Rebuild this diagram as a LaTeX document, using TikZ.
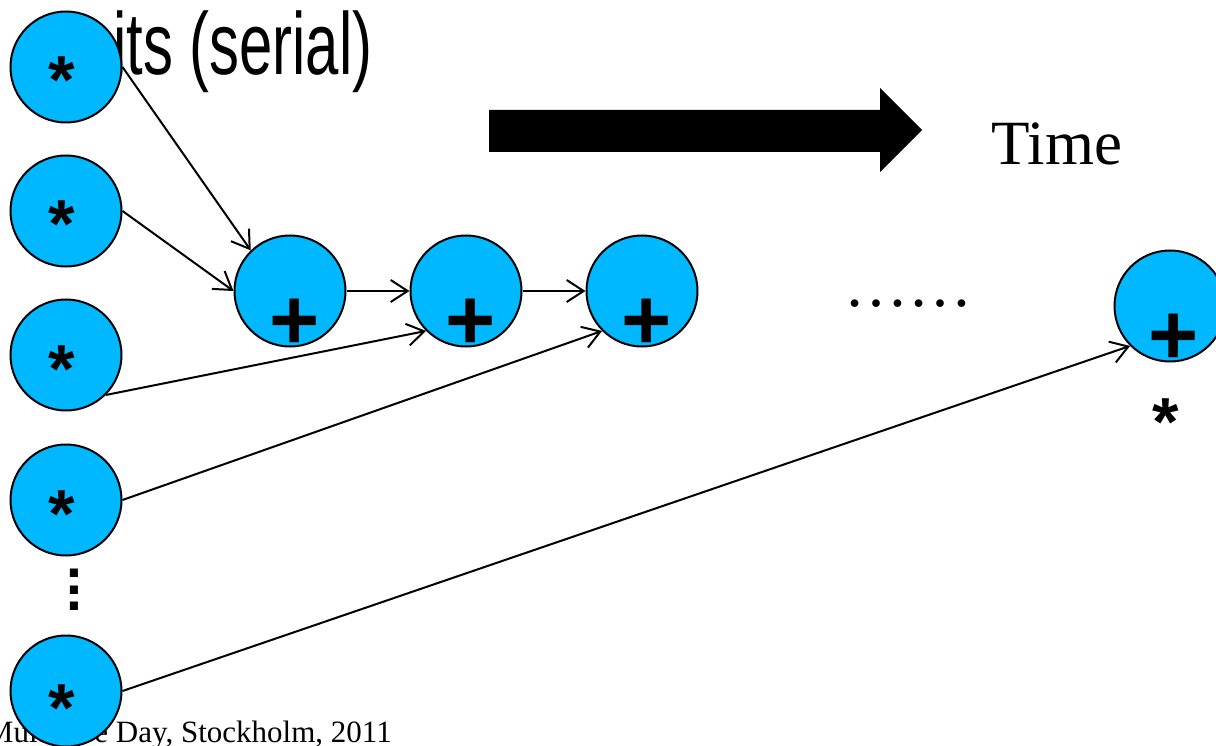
\documentclass[tikz,border=0pt]{standalone}
\usepackage{fontspec}
\setmainfont{Liberation Serif}
\newfontfamily\sansf{Liberation Sans}
\newfontfamily\narrowf[FakeStretch=0.68]{Liberation Sans}
\usetikzlibrary{arrows.meta}
\definecolor{nodeblue}{RGB}{0,184,255}
\begin{document}
\begin{tikzpicture}[x=1pt,y=-1pt,
  opnode/.style={circle, draw=black, line width=2pt, fill=nodeblue, minimum size=111pt, inner sep=0pt},
  starlbl/.style={anchor=base, inner sep=0pt, font=\sansf\bfseries\fontsize{68}{72}\selectfont},
  pluslbl/.style={anchor=base, inner sep=0pt, font=\sansf\bfseries\fontsize{86}{90}\selectfont},
  vdots/.style={anchor=south, inner sep=0pt, align=center, font=\sansf\bfseries\fontsize{57}{16.5}\selectfont},
  conn/.style={line width=2pt, -{Straight Barb[length=17pt,width=22pt,line width=2pt]}},
]
\useasboundingbox (0,0) rectangle (1216,746);
\clip (0,0) rectangle (1216,746);

% texts behind circles
\node[anchor=base west, inner sep=0pt, font=\narrowf\fontsize{88}{90}\selectfont] (title) at (113,75) {its (serial)};
\node[anchor=base east, inner sep=0pt, font=\fontsize{31}{34}\selectfont] (footer) at (392,742) {Multicore Day, Stockholm, 2011};
\node[anchor=base west, inner sep=0pt, font=\fontsize{63}{66}\selectfont] (time) at (991,165) {Time};
\node[anchor=base west, inner sep=0pt, font=\fontsize{64}{66}\selectfont] (hdots) at (844,306) {……};

% big time arrow
\fill[black] (489,110) -- (880,110) -- (880,88) -- (922,130) -- (880,172) -- (880,152) -- (489,152) -- cycle;

% circles
\node[opnode] (s1) at (66,67) {};
\node[opnode] (s2) at (66,211) {};
\node[opnode] (s3) at (66,355) {};
\node[opnode] (s4) at (66,500) {};
\node[opnode] (sn) at (66,691) {};
\node[opnode] (p1) at (290,291) {};
\node[opnode] (p2) at (466,291) {};
\node[opnode] (p3) at (642,291) {};
\node[opnode] (pn) at (1170,306) {};

% labels
\node[starlbl] (l1) at (62,104) {*};
\node[starlbl] (l2) at (62,248) {*};
\node[starlbl] (l3) at (62,392) {*};
\node[starlbl] (l4) at (62,537) {*};
\node[starlbl] (ln) at (62,731) {*};
\node[starlbl] (lonestar) at (1166,445) {*};
\node[pluslbl] (q1) at (295,349) {+};
\node[pluslbl] (q2) at (471,349) {+};
\node[pluslbl] (q3) at (647,349) {+};
\node[pluslbl] (qn) at (1174,364) {+};

% vertical dots
\node[vdots] (vd) at (74,611) {.\\.\\.};

% connectors
\draw[conn] (s1.east) -- (p1.134);
\draw[conn] (s2.east) -- (p1.west);
\draw[conn] (s3.-45) -- (p2.-135);
\draw[conn] (s4.east) -- (p3.-135);
\draw[conn] (sn.east) -- (pn.-135);
\draw[conn] (p1.east) -- (p2.west);
\draw[conn] (p2.east) -- (p3.west);
\end{tikzpicture}
\end{document}
